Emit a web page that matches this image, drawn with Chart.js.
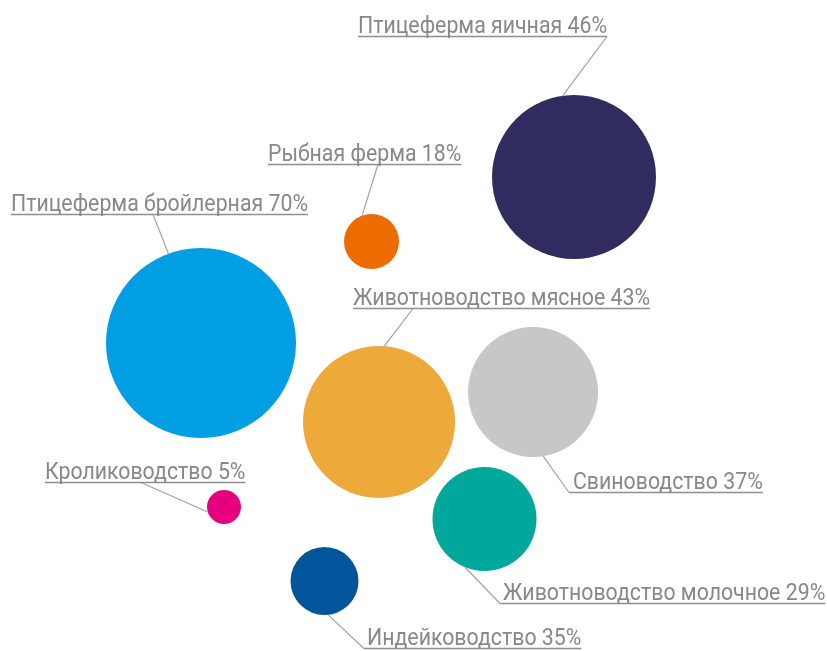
<!DOCTYPE html>
<html>
<head>
<meta charset="utf-8">
<script src="https://cdn.jsdelivr.net/npm/chart.js@4/dist/chart.umd.min.js"></script>
<style>
  html, body { margin: 0; padding: 0; background: #ffffff; }
  #wrap { width: 827px; height: 651px; }
</style>
</head>
<body>
<div id="wrap"><canvas id="c" width="827" height="651"></canvas></div>
<script>
// ---- data ----
const categories = [
  "Птицеферма яичная",
  "Рыбная ферма",
  "Птицеферма бройлерная",
  "Животноводство мясное",
  "Свиноводство",
  "Кролиководство",
  "Животноводство молочное",
  "Индейководство"
];
const shares = [46, 18, 70, 43, 37, 5, 29, 35];
// bubble placement (arbitrary layout units) and bubble radii
const posX = [574, 371.5, 201, 379, 533, 224, 484.5, 324.5];
const posY = [177, 241.5, 343, 422, 392, 507, 519, 581];
const radii = [82, 27.5, 95, 76, 65, 17, 52, 34];
const colors = ["#312c60", "#ec6c00", "#009fe3", "#eea93b", "#c6c7c6", "#e5007d", "#00a89c", "#00559b"];

// ---- label layout (annotation styling) ----
// tx, ty: text left / baseline; anchor: where the leader joins the underline ("L","R" or x); ang: angle on bubble (deg)
const labelLayout = [
  { tx: 358, ty: 33,  anchor: "R",  ang: -98 },
  { tx: 268, ty: 161, anchor: 378,  ang: -110 },
  { tx: 11,  ty: 211, anchor: 153,  ang: -110 },
  { tx: 353, ty: 305, anchor: 413,  ang: -86 },
  { tx: 573, ty: 489, anchor: "L",  ang: 81, lead: 4 },
  { tx: 45,  ty: 479, anchor: 141,  ang: 163 },
  { tx: 503, ty: 600, anchor: "L",  ang: 112, lead: 3 },
  { tx: 367, ty: 645, anchor: "L",  ang: 84, lead: 3 }
];

const FONT = '23px Roboto, "Liberation Sans", sans-serif';
const REF_TEXT_WIDTH = 249; // width of the first label in the reference, used to set condensing

const labelPlugin = {
  id: 'bubbleLabels',
  afterDatasetsDraw(chart) {
    const ctx = chart.ctx;
    const meta = chart.getDatasetMeta(0);
    ctx.save();
    ctx.font = FONT;
    ctx.textBaseline = 'alphabetic';
    ctx.textAlign = 'left';
    const firstW = ctx.measureText(categories[0] + " " + shares[0] + "%").width;
    const sx = REF_TEXT_WIDTH / firstW;
    meta.data.forEach((el, i) => {
      const L = labelLayout[i];
      const text = categories[i] + " " + shares[i] + "%";
      const w = ctx.measureText(text).width * sx;
      const uy = L.ty + 3.5;
      const lead = L.lead || 0;
      const ulStart = L.tx - lead;
      const ulEnd = L.tx + w;
      let ax;
      if (L.anchor === "R") ax = ulEnd;
      else if (L.anchor === "L") ax = ulStart;
      else ax = L.anchor;
      const r = el.options.radius;
      const a = L.ang * Math.PI / 180;
      const bx = el.x + r * Math.cos(a);
      const by = el.y + r * Math.sin(a);
      // leader line
      ctx.strokeStyle = '#a2a2a2';
      ctx.lineWidth = 1.2;
      ctx.beginPath();
      ctx.moveTo(bx, by);
      ctx.lineTo(ax, uy);
      ctx.stroke();
      // underline
      ctx.strokeStyle = '#8e8e8e';
      ctx.lineWidth = 1.5;
      ctx.beginPath();
      ctx.moveTo(ulStart, uy);
      ctx.lineTo(ulEnd, uy);
      ctx.stroke();
      // text (condensed)
      ctx.save();
      ctx.translate(L.tx, L.ty);
      ctx.scale(sx, 1);
      ctx.fillStyle = '#888888';
      ctx.fillText(text, 0, 0);
      ctx.restore();
    });
    ctx.restore();
  }
};

const points = categories.map((c, i) => ({ x: posX[i], y: posY[i], r: radii[i] }));

// Chart.js insets the chart area by the largest bubble radius; compensate so units map 1:1
const inset = Math.max(...radii);
const W = 827, H = 651;

new Chart(document.getElementById('c'), {
  type: 'bubble',
  data: {
    labels: categories,
    datasets: [{
      data: points,
      backgroundColor: colors,
      borderWidth: 0,
      hoverBorderWidth: 0,
      hoverRadius: 0,
      clip: false
    }]
  },
  options: {
    responsive: false,
    animation: false,
    events: [],
    layout: { padding: 0 },
    plugins: { legend: { display: false }, tooltip: { enabled: false } },
    scales: {
      x: { type: 'linear', min: inset, max: W - inset, display: false },
      y: { type: 'linear', min: inset, max: H - inset, reverse: true, display: false }
    }
  },
  plugins: [labelPlugin]
});
</script>
</body>
</html>
